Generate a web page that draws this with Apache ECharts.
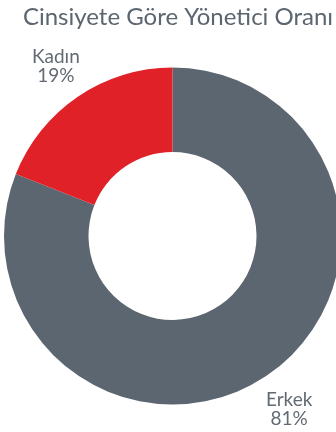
<!DOCTYPE html>
<html>
<head>
<meta charset="utf-8">
<script src="https://cdn.jsdelivr.net/npm/echarts@6/dist/echarts.min.js"></script>
<style>
  html, body { margin: 0; padding: 0; background: #ffffff; }
  #chart { width: 336px; height: 432px; }
</style>
</head>
<body>
<div id="chart"></div>
<script>
// Manager share by gender (percent)
const titleText = 'Cinsiyete Göre Yönetici Oranı';
const categories = ['Erkek', 'Kadın'];
const shares = [81, 19];
const colors = ['#5c6670', '#e02128'];

const chart = echarts.init(document.getElementById('chart'), null, { renderer: 'canvas' });

chart.setOption({
  animation: false,
  backgroundColor: '#ffffff',
  title: {
    text: titleText,
    left: 173,
    top: 0,
    textAlign: 'center',
    textStyle: {
      fontFamily: 'Lato',
      fontWeight: 'normal',
      fontSize: 24,
      color: '#5c6670'
    }
  },
  series: [{
    type: 'pie',
    center: [172.5, 236],
    radius: [84, 168.5],
    startAngle: 90,
    clockwise: true,
    silent: true,
    data: categories.map((name, i) => ({
      name: name,
      value: shares[i],
      itemStyle: { color: colors[i] }
    })),
    label: {
      show: true,
      position: 'outside',
      formatter: '{b}\n{c}%',
      fontFamily: 'Lato',
      fontSize: 19,
      lineHeight: 19,
      color: '#626a73',
      overflow: 'none',
      distanceToLabelLine: 0
    },
    labelLine: { show: false, length: 39, length2: 0 },
    labelLayout: function () {
      return { align: 'center', dy: 2 };
    }
  }]
});
</script>
</body>
</html>
